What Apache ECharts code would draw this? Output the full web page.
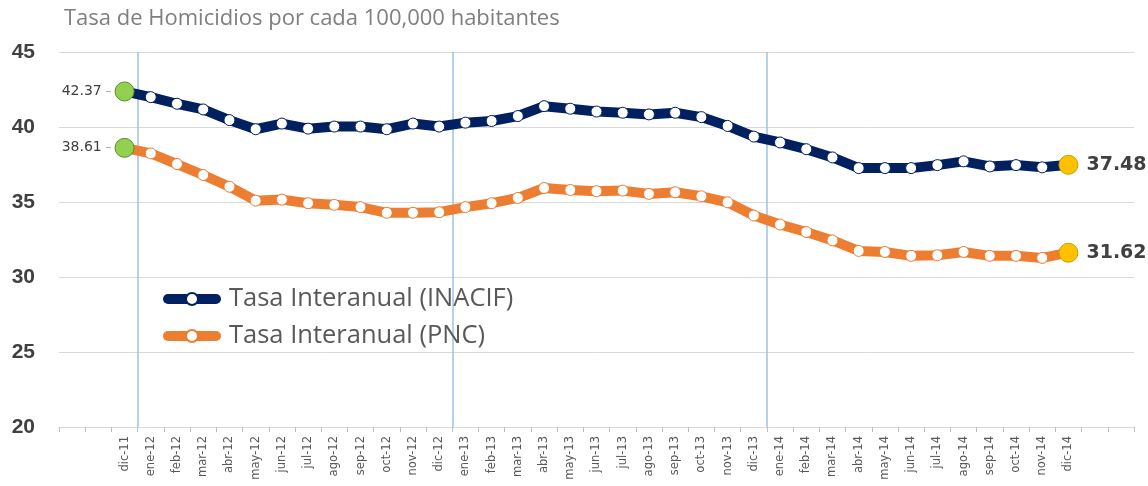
<!DOCTYPE html>
<html><head><meta charset="utf-8">
<script src="https://cdn.jsdelivr.net/npm/echarts@6/dist/echarts.min.js"></script>
<style>html,body{margin:0;padding:0;background:#fff}#c{width:1148px;height:486px}</style>
</head><body><div id="c"></div>
<script>
const chartTitle = 'Tasa de Homicidios por cada 100,000 habitantes';
const months = ['dic-11','ene-12','feb-12','mar-12','abr-12','may-12','jun-12','jul-12','ago-12','sep-12','oct-12','nov-12','dic-12',
  'ene-13','feb-13','mar-13','abr-13','may-13','jun-13','jul-13','ago-13','sep-13','oct-13','nov-13','dic-13',
  'ene-14','feb-14','mar-14','abr-14','may-14','jun-14','jul-14','ago-14','sep-14','oct-14','nov-14','dic-14'];
const padBefore = ['', ''];
const padAfter = ['', ''];
const seriesNames = ['Tasa Interanual (INACIF)', 'Tasa Interanual (PNC)'];
const inacif = [42.37, 41.99, 41.55, 41.17, 40.46, 39.85, 40.23, 39.89, 40.03, 40.03, 39.85, 40.23, 40.03,
  40.29, 40.40, 40.73, 41.39, 41.22, 41.03, 40.95, 40.84, 40.95, 40.66, 40.07, 39.36,
  38.97, 38.52, 37.97, 37.26, 37.26, 37.26, 37.46, 37.71, 37.37, 37.46, 37.31, 37.48];
const pnc = [38.61, 38.24, 37.53, 36.80, 36.02, 35.09, 35.16, 34.92, 34.81, 34.66, 34.28, 34.28, 34.32,
  34.66, 34.92, 35.27, 35.93, 35.80, 35.72, 35.76, 35.54, 35.65, 35.38, 34.98, 34.10,
  33.50, 33.00, 32.44, 31.74, 31.67, 31.41, 31.45, 31.67, 31.41, 31.41, 31.27, 31.62];
const yMin = 20, yMax = 45, yStep = 5;
const yearBreaks = ['ene-12', 'ene-13', 'ene-14'];

const categories = padBefore.concat(months, padAfter);
const breakIdx = yearBreaks.map(m => categories.indexOf(m));
const SANS = 'Open Sans';
const WIDE = 'DejaVu Sans';

function buildData(vals) {
  const out = padBefore.map(() => null);
  vals.forEach((v, i) => {
    if (i === 0) {
      out.push({value: v, symbolSize: 19,
        itemStyle: {color: '#92D050', borderColor: '#5E8C31', borderWidth: 1},
        label: {show: true, position: 'left', distance: 3,
          formatter: p => '{a|' + p.value.toFixed(2) + '}{b| –}',
          rich: {a: {fontFamily: WIDE, fontSize: 14, color: '#404040'}, b: {fontFamily: WIDE, fontSize: 12, color: '#a6a6a6'}}}});
    } else if (i === vals.length - 1) {
      out.push({value: v, symbolSize: 19,
        itemStyle: {color: '#FFC000', borderColor: '#C9A000', borderWidth: 1},
        label: {show: true, position: 'right', distance: 8, fontFamily: WIDE, fontSize: 19,
          fontWeight: 'bold', color: '#404040', formatter: p => p.value.toFixed(2)}});
    } else out.push(v);
  });
  padAfter.forEach(() => out.push(null));
  return out;
}

function mkSeries(name, vals, color) {
  return {
    name, type: 'line', data: buildData(vals),
    symbol: 'circle', symbolSize: 11, showAllSymbol: true,
    itemStyle: {color: '#fff', borderColor: color, borderWidth: 1},
    lineStyle: {color: color, width: 10, cap: 'round', join: 'round'},
    emphasis: {disabled: true}, animation: false, z: 3
  };
}

const chart = echarts.init(document.getElementById('c'));
chart.setOption({
  backgroundColor: '#fff',
  animation: false,
  title: {text: chartTitle, left: 59, top: 3,
    textStyle: {fontFamily: SANS, fontSize: 22, fontWeight: 'normal', color: '#7f7f7f'}},
  legend: {
    orient: 'vertical', left: 158, top: 281, itemGap: 11, itemWidth: 48, itemHeight: 15,
    data: seriesNames,
    lineStyle: {width: 10, cap: 'round'},
    textStyle: {fontFamily: SANS, fontSize: 25.5, color: '#595959', padding: [0, 0, 0, 8]}
  },
  grid: {left: 59, right: 14, top: 52, bottom: 59, containLabel: false},
  xAxis: {
    type: 'category', data: categories, boundaryGap: true,
    axisLine: {lineStyle: {color: '#d9d9d9', width: 1}},
    axisTick: {show: true, length: 5, lineStyle: {color: '#bfbfbf'}},
    axisLabel: {interval: 0, rotate: 90, fontFamily: WIDE, fontSize: 11.5, color: '#595959', margin: 9},
    splitLine: {show: true, showMinLine: true, showMaxLine: false,
      interval: (idx) => breakIdx.indexOf(idx) >= 0,
      lineStyle: {color: '#9DC3E6', width: 1.5}}
  },
  yAxis: {
    type: 'value', min: yMin, max: yMax, interval: yStep,
    axisLine: {show: false}, axisTick: {show: false},
    axisLabel: {fontFamily: 'Liberation Sans', fontSize: 21, fontWeight: 'bold', color: '#404040', margin: 24},
    splitLine: {lineStyle: {color: '#d9d9d9', width: 1}}
  },
  series: [mkSeries(seriesNames[0], inacif, '#002060'), mkSeries(seriesNames[1], pnc, '#ED7D31')]
});
</script></body></html>
